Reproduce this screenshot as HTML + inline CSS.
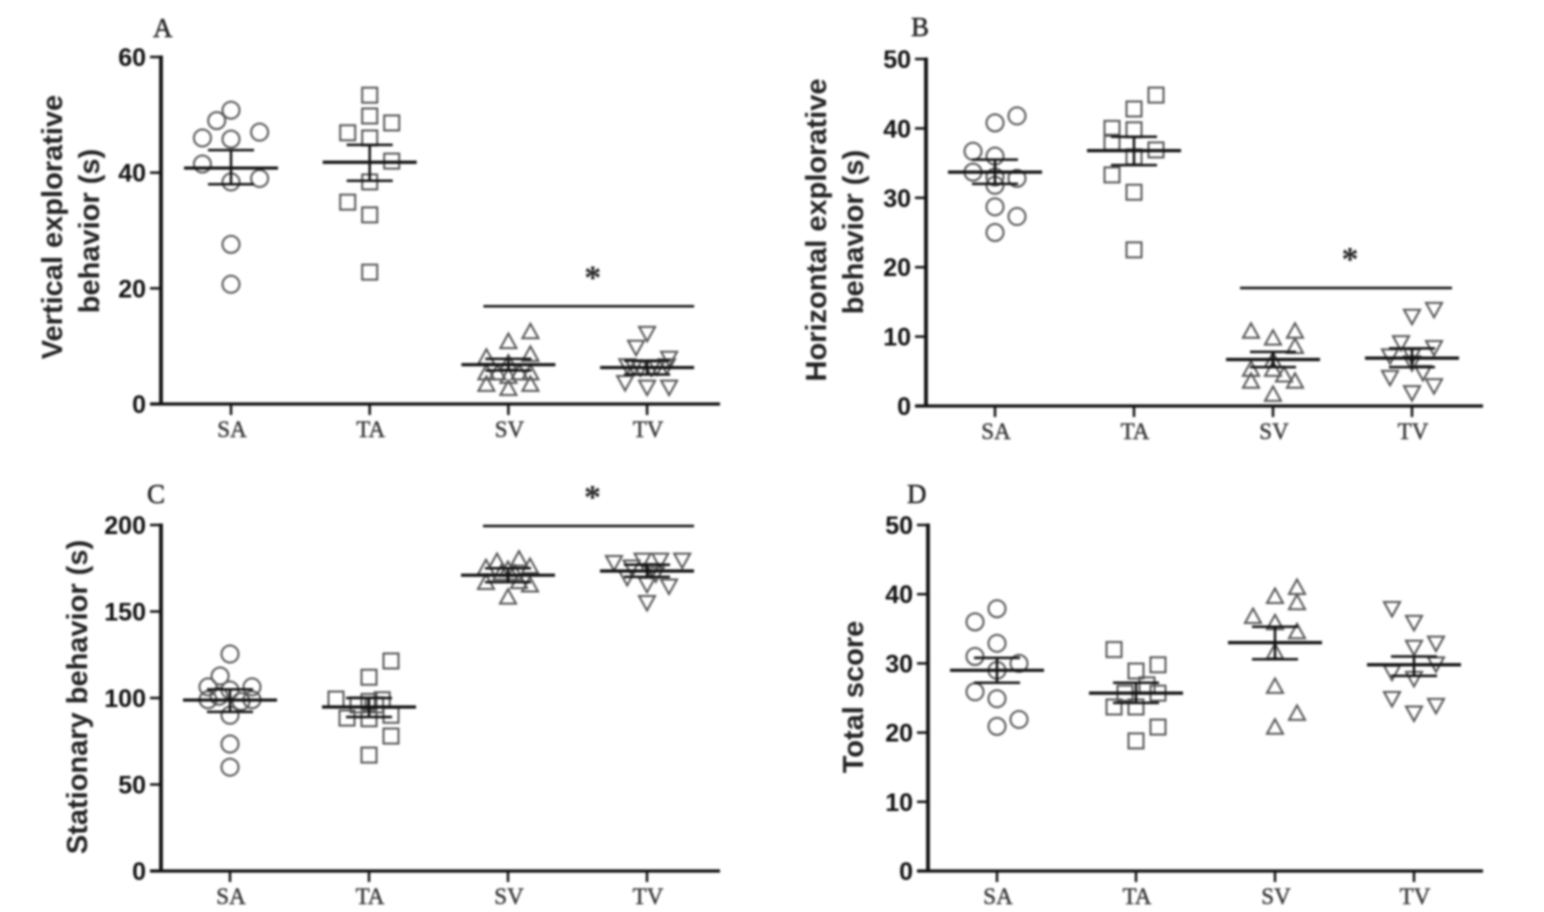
<!DOCTYPE html>
<html lang="en">
<head>
<meta charset="utf-8">
<title>Behavior scatter panels</title>
<style>
  html,body{margin:0;padding:0;background:#fff;width:1544px;height:912px;overflow:hidden}
  svg{display:block;filter:blur(.95px)}
  .tick{font:bold 25px "Liberation Sans",sans-serif;fill:#111}
  .title{font:bold 29px "Liberation Sans",sans-serif;fill:#222}
  .cat{font:23px "Liberation Serif",serif;fill:#333;stroke:#333;stroke-width:.4}
  .letter{font:27px "Liberation Serif",serif;fill:#222;stroke:#222;stroke-width:.5}
  .star{font:bold 34px "Liberation Serif",serif;fill:#222}
</style>
</head>
<body>
<svg id="chart" xmlns="http://www.w3.org/2000/svg" width="1544" height="912" viewBox="0 0 1544 912"></svg>
<script>
// Shared categories
const categories = ['SA','TA','SV','TV'];
const markerShapes = ['circle','square','triangle','invtriangle'];

// Panel A values
const aTicks = [0,20,40,60];
const aSA = [50.8,49,46,47,45.8,41.5,38.4,39,27.6,20.7];
const aTA = [53.4,49.8,48.6,46.9,46,42,38.4,34.9,32.7,22.8];
const aSV = [12.4,10.7,8,8.5,7,5.3,5.3,5.3,5.3,4.7,3.3,3.3,2.6];
const aTV = [12.3,9.9,8,6.7,6.5,6.3,6.3,6.5,6.7,3.8,3,3];
const aSlotSV = [1,0,-1,1,0,-1,-.5,.5,1,0,-1,1,0];
const aSlotTV = [0,-.5,1,-.9,-.6,-.3,.2,.45,.9,-1,0,1];
const aSlotSA = [0,-.65,-1.3,1.3,0,-1.3,0,1.3,0,0];
const aSlotTA = [0,0,1,-1,0,1,0,-1,0,0];
const aMean = [40.8,41.8,6.8,6.3];
const aHigh = [43.9,44.8,7.8,7.5];
const aLow = [38,38.6,5.8,5.1];
const aSig = 16.9;

// Panel B values
const bTicks = [0,10,20,30,40,50];
const bSA = [41.8,40.8,36.7,36,33.7,33,31.8,32.8,28.7,27.3,25];
const bTA = [44.8,42.8,40,39.8,38,36.9,35.9,33.3,30.8,22.5];
const bSV = [10.7,9.7,10.7,8.5,6.5,5.2,5.2,4.4,3.5,3.5,1.6];
const bTV = [14,13,9.2,8.5,7.3,7.3,4.2,2,3,4.9,6.3];
const bSlotSA = [1,0,-1,0,-1,0,0,1,0,1,0];
const bSlotTA = [1,0,-1,0,-1,1,0,-1,0,0];
const bSlotSV = [-1,0,1,1,0,-1,0,.5,-1,1,0];
const bSlotTV = [1,0,-.5,1,-1,0,-1,0,1,.5,0];
const bMean = [33.7,36.8,6.7,6.9];
const bHigh = [35.5,38.8,7.8,8.3];
const bLow = [32,34.7,5.6,5.6];
const bSig = 17;

// Panel C values
const cTicks = [0,50,100,150,200];
const cSA = [125.4,112.7,106.4,106.4,104.6,99,99,101,98,90,73.4,60];
const cTA = [121.4,112,99.4,99,98,96,96,88.4,88,90,78,67];
const cSV = [180,178.6,175.7,175,174,172,172,166.5,167,165,158];
const cTV = [178.6,180,180,180,176,174,170,166,165,155.5,172];
const cSlotSA = [0,-.45,-1,1,0,-1,1,-.5,.5,0,0,0];
const cSlotTA = [1,0,-1.5,.6,0,-.5,.3,-1,0,1,1,0];
const cSlotSV = [.5,-.5,1,-1,0,-.3,.3,-1,.5,1,0];
const cSlotTV = [-1.5,-.2,1.6,.6,-.7,.2,-.9,0,1,0,.4];
const cMean = [98.8,94.8,171,173.4];
const cHigh = [105,100,175,177];
const cLow = [92,89,167,170];
const cSig = 199.4;

// Panel D values
const dTicks = [0,10,20,30,40,50];
const dSA = [37.9,36,32.9,31,30,29,25.9,24.9,21.9,20.9];
const dTA = [32,29.8,28.9,26.9,25.7,25.7,23.7,23.7,20.8,18.8];
const dSV = [40.9,39.6,38.7,36.7,35.8,34.5,31.6,26.6,22.7,20.7];
const dTV = [38,36,33,32.4,30,28.8,27.9,25,24,22.9];
const dSlotSA = [0,-1,0,-1,1,0,-1,0,1,0];
const dSlotTA = [-1,1,0,.5,-.5,1,-1,0,1,0];
const dSlotSV = [1,0,1,-1,0,1,0,0,1,0];
const dSlotTV = [-1,0,1,0,1,-1,0,-1,1,0];
const dMean = [29,25.7,33,29.8];
const dHigh = [30.8,27.2,35.3,31];
const dLow = [27.2,24.3,30.6,28.2];

const svg = document.getElementById('chart');
const NS = 'http://www.w3.org/2000/svg';
const INK = '#111';
const MARK = '#555';

function make(tag, props, parent, text) {
  const el = document.createElementNS(NS, tag);
  for (const k in props) el.setAttribute(k, props[k]);
  if (text !== undefined) el.textContent = text;
  parent.appendChild(el);
  return el;
}

function drawMarker(group, shape, cx, cy, seriesName) {
  let el;
  const common = {fill:'none', stroke:MARK, 'stroke-width':2};
  if (shape === 'circle') {
    el = make('circle', {...common, cx:cx, cy:cy, r:8.5}, group);
  } else if (shape === 'square') {
    el = make('rect', {...common, x:cx-7.5, y:cy-7.5, width:15, height:15}, group);
  } else if (shape === 'triangle') {
    el = make('polygon', {...common, points:`${cx},${cy-8.5} ${cx+8},${cy+6} ${cx-8},${cy+6}`}, group);
  } else {
    el = make('polygon', {...common, points:`${cx},${cy+8.5} ${cx+8},${cy-6} ${cx-8},${cy-6}`}, group);
  }
  
  
}

function drawPanel(p) {
  const g = make('g', {}, svg);
  
  

  const maxV = p.ticks[p.ticks.length - 1];
  const yScale = v => p.y0 + (p.yTop - p.y0) * v / maxV;
  const xScale = i => p.catX + i * p.catStep;
  const slotPx = 22;

  // Series marks first so axes and means overlay them
  categories.forEach((cat, i) => {
    const sg = make('g', {}, g);
    
    
    p.series[i].forEach((v, j) => {
      drawMarker(sg, markerShapes[i], xScale(i) + p.slots[i][j] * slotPx, yScale(v), cat.toLowerCase());
    });
    const cx = xScale(i);
    const meanLine = make('line', {x1:cx-47, x2:cx+47, y1:yScale(p.mean[i]), y2:yScale(p.mean[i]), stroke:INK, 'stroke-width':3.2}, sg);
    
    
    const stem = make('line', {x1:cx, x2:cx, y1:yScale(p.high[i]), y2:yScale(p.low[i]), stroke:INK, 'stroke-width':2.5}, sg);
    
    
    const capHi = make('line', {x1:cx-23, x2:cx+23, y1:yScale(p.high[i]), y2:yScale(p.high[i]), stroke:INK, 'stroke-width':2.5}, sg);
    
    
    const capLo = make('line', {x1:cx-23, x2:cx+23, y1:yScale(p.low[i]), y2:yScale(p.low[i]), stroke:INK, 'stroke-width':2.5}, sg);
    
    
  });

  // Axes
  const yAxis = make('line', {x1:p.axisX, x2:p.axisX, y1:p.yTop-1.5, y2:p.y0+1.5, stroke:INK, 'stroke-width':3.8}, g);
  
  
  const xAxis = make('line', {x1:p.axisX-11, x2:p.axisEnd, y1:p.y0, y2:p.y0, stroke:INK, 'stroke-width':3.2}, g);
  
  

  p.ticks.forEach(t => {
    const y = yScale(t);
    const tk = make('line', {x1:p.axisX-11, x2:p.axisX, y1:y, y2:y, stroke:INK, 'stroke-width':2.5}, g);
    
    
    const lb = make('text', {class:'tick', x:p.axisX-15, y:y+9, 'text-anchor':'end'}, g, String(t));
    
    
  });

  categories.forEach((cat, i) => {
    const x = xScale(i);
    const tk = make('line', {x1:x, x2:x, y1:p.y0, y2:p.y0+11, stroke:INK, 'stroke-width':2.5}, g);
    
    
    const lb = make('text', {class:'cat', x:x+1, y:p.y0+33, 'text-anchor':'middle'}, g, cat);
    
    
  });

  // Axis title lines
  p.titles.forEach(t => {
    const tx = make('text', {class:'title', 'text-anchor':'middle', transform:`translate(${t.x},${t.y}) rotate(-90)`}, g, t.text);
    
    
  });

  // Panel letter
  const letter = make('text', {class:'letter', x:p.letterX, y:p.letterY}, g, p.letter);
  
  

  // Significance bar
  if (p.sig !== null) {
    const sy = yScale(p.sig);
    const x1 = xScale(2) + p.sigLeft, x2 = xScale(3) + p.sigRight;
    const bar = make('line', {x1:x1, x2:x2, y1:sy, y2:sy, stroke:INK, 'stroke-width':2.5}, g);
    
    
    const star = make('text', {class:'star', x:(x1+x2)/2+4, y:sy-18, 'text-anchor':'middle'}, g, '*');
    
    
  }
}

[
  {letter:'A', letterX:153, letterY:37, axisX:161, axisEnd:720, y0:404, yTop:57, catX:231, catStep:138.7,
   ticks:aTicks, series:[aSA,aTA,aSV,aTV], slots:[aSlotSA,aSlotTA,aSlotSV,aSlotTV],
   mean:aMean, high:aHigh, low:aLow, sig:aSig, sigLeft:-25, sigRight:47,
   titles:[{x:62,y:227,text:'Vertical explorative'},{x:99,y:231,text:'behavior (s)'}]},
  {letter:'B', letterX:911, letterY:36, axisX:926, axisEnd:1483, y0:406, yTop:59, catX:995, catStep:139,
   ticks:bTicks, series:[bSA,bTA,bSV,bTV], slots:[bSlotSA,bSlotTA,bSlotSV,bSlotTV],
   mean:bMean, high:bHigh, low:bLow, sig:bSig, sigLeft:-33, sigRight:40,
   titles:[{x:826,y:230,text:'Horizontal explorative'},{x:863,y:232,text:'behavior (s)'}]},
  {letter:'C', letterX:147, letterY:503, axisX:161, axisEnd:720, y0:871, yTop:525, catX:230, catStep:139,
   ticks:cTicks, series:[cSA,cTA,cSV,cTV], slots:[cSlotSA,cSlotTA,cSlotSV,cSlotTV],
   mean:cMean, high:cHigh, low:cLow, sig:cSig, sigLeft:-25, sigRight:47,
   titles:[{x:87,y:697,text:'Stationary behavior (s)'}]},
  {letter:'D', letterX:907, letterY:503, axisX:928, axisEnd:1483, y0:871, yTop:525, catX:997, catStep:139,
   ticks:dTicks, series:[dSA,dTA,dSV,dTV], slots:[dSlotSA,dSlotTA,dSlotSV,dSlotTV],
   mean:dMean, high:dHigh, low:dLow, sig:null, sigLeft:0, sigRight:0,
   titles:[{x:863,y:697,text:'Total score'}]}
].forEach(drawPanel);
</script>
</body>
</html>
